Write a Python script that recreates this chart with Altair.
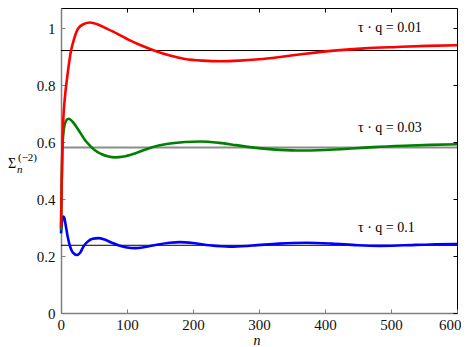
import altair as alt
import pandas as pd

# ---- data ----
n_red = [0, 1, 2, 3.5, 6, 10, 15, 20, 26, 35, 44, 55, 67, 85, 102, 120, 142, 165, 188, 215,
         241, 270, 300, 332, 370, 418, 460, 509, 555, 600]
v_red = [0.30, 0.45, 0.57, 0.68, 0.76, 0.84, 0.92, 0.965, 1.0, 1.016, 1.021, 1.015, 1.002, 0.982,
         0.961, 0.942, 0.922, 0.905, 0.893, 0.887, 0.885, 0.887, 0.892, 0.900, 0.911, 0.923,
         0.930, 0.935, 0.939, 0.941]

n_green = [0, 1, 2, 4, 6, 9, 12, 16, 21, 26, 31, 36, 41, 46, 55, 62, 72, 82, 95, 112, 137, 160,
           188, 211, 240, 265, 286, 320, 357, 400, 440, 473, 520, 560, 600]
v_green = [0.29, 0.45, 0.57, 0.64, 0.665, 0.68, 0.683, 0.676, 0.662, 0.645, 0.627, 0.609, 0.595,
           0.583, 0.566, 0.558, 0.550, 0.547, 0.550, 0.561, 0.582, 0.594, 0.601, 0.603, 0.598,
           0.590, 0.583, 0.575, 0.571, 0.573, 0.578, 0.583, 0.588, 0.591, 0.593]

n_blue = [0, 1, 2, 3.5, 5, 7, 10, 14, 18, 24, 29, 34, 40, 48, 57, 66, 77, 88, 100, 112, 125, 145,
          165, 180, 200, 225, 256, 290, 330, 372, 410, 450, 483, 520, 560, 600]
v_blue = [0.28, 0.31, 0.33, 0.339, 0.335, 0.31, 0.27, 0.232, 0.212, 0.204, 0.212, 0.234, 0.250,
          0.261, 0.263, 0.258, 0.247, 0.237, 0.230, 0.228, 0.231, 0.240, 0.247, 0.249, 0.246,
          0.238, 0.233, 0.237, 0.244, 0.247, 0.244, 0.238, 0.236, 0.238, 0.241, 0.242]

ref_black = [0.9225, 0.238]
ref_gray = [0.582]

label_text = ["τ · q = 0.01", "τ · q = 0.03", "τ · q = 0.1"]
label_n = [450, 450, 450]
label_v = [1.0, 0.65, 0.297]

x_ticks = [0, 100, 200, 300, 400, 500, 600]
y_ticks = [0, 0.2, 0.4, 0.6, 0.8, 1.0]

FONT = "Liberation Serif, DejaVu Serif, serif"
GRAY = "#808080"

xs = alt.Scale(domain=[0, 600], nice=False, zero=False)
ys = alt.Scale(domain=[0, 1.072], nice=False, zero=False)

ax_x_main = alt.Axis(values=x_ticks, title=None, ticks=False, tickSize=0, domain=True,
                     domainColor=GRAY, domainWidth=1.5, labelFont=FONT, labelFontSize=15,
                     labelColor="#111111", labelPadding=4, grid=False, labelFlush=True,
                     labelFlushOffset=4, labelOverlap=False, format="d", orient="bottom")
ax_y_main = alt.Axis(values=y_ticks, title=None, ticks=False, tickSize=0, domain=True,
                     domainColor=GRAY, domainWidth=1.5, labelFont=FONT, labelFontSize=15,
                     labelColor="#111111", labelPadding=6, grid=False, labelFlush=False,
                     labelOverlap=False, format=".1~f", orient="left")
ax_x_bot = alt.Axis(values=x_ticks, title=None, labels=False, domain=False, ticks=True,
                    tickSize=4, offset=-4, tickColor=GRAY, grid=False, orient="bottom")
ax_y_left = alt.Axis(values=y_ticks, title=None, labels=False, domain=False, ticks=True,
                     tickSize=4, offset=-4, tickColor=GRAY, grid=False, orient="left")
ax_x_top = alt.Axis(values=x_ticks, title=None, labels=False, domain=False, ticks=True,
                    tickSize=4, offset=-4, tickColor="#000000", grid=False, orient="top")
ax_y_right = alt.Axis(values=y_ticks, title=None, labels=False, domain=False, ticks=True,
                      tickSize=4, offset=-4, tickColor="#000000", grid=False, orient="right")

df_red = pd.DataFrame({"n": n_red, "v": v_red})
df_green = pd.DataFrame({"n": n_green, "v": v_green})
df_blue = pd.DataFrame({"n": n_blue, "v": v_blue})

gray_rule = alt.Chart(pd.DataFrame({"v": ref_gray})).mark_rule(color="#8c8c8c", strokeWidth=2).encode(
    y=alt.Y("v:Q", scale=ys, axis=None))
black_rule = alt.Chart(pd.DataFrame({"v": ref_black})).mark_rule(color="#000000", strokeWidth=1).encode(
    y=alt.Y("v:Q", scale=ys, axis=None))

blue = alt.Chart(df_blue).mark_line(color="#0000ff", strokeWidth=2.6, interpolate="monotone").encode(
    x=alt.X("n:Q", scale=xs, axis=ax_x_main), y=alt.Y("v:Q", scale=ys, axis=ax_y_main))
green = alt.Chart(df_green).mark_line(color="#008000", strokeWidth=2.6, interpolate="monotone").encode(
    x=alt.X("n:Q", scale=xs, axis=ax_x_bot), y=alt.Y("v:Q", scale=ys, axis=ax_y_left))
red = alt.Chart(df_red).mark_line(color="#ff0000", strokeWidth=2.6, interpolate="monotone").encode(
    x=alt.X("n:Q", scale=xs, axis=ax_x_top), y=alt.Y("v:Q", scale=ys, axis=ax_y_right))

labels = alt.Chart(pd.DataFrame({"n": label_n, "v": label_v, "t": label_text})).mark_text(
    font=FONT, fontSize=14, align="left", baseline="middle", color="#000000").encode(
    x=alt.X("n:Q", scale=xs, axis=None), y=alt.Y("v:Q", scale=ys, axis=None), text="t:N")

one = pd.DataFrame({"k": [0]})
sigma = alt.Chart(one).mark_text(text="Σ", font=FONT, fontSize=14, align="left",
                                 baseline="alphabetic", x=-53, y=160, color="#000000").encode()
sub_n = alt.Chart(one).mark_text(text="n", font=FONT, fontSize=11, fontStyle="italic",
                                 align="left", baseline="alphabetic", x=-44, y=165,
                                 color="#000000").encode()
sup = alt.Chart(one).mark_text(text="(−2)", font=FONT, fontSize=11, align="left",
                               baseline="alphabetic", x=-43, y=153, color="#000000").encode()
xtitle = alt.Chart(one).mark_text(text="n", font=FONT, fontSize=14, fontStyle="italic",
                                  align="center", baseline="alphabetic", x=196, y=337,
                                  color="#000000").encode()

chart = alt.layer(gray_rule, black_rule, blue, green, red, labels, sigma, sub_n, sup, xtitle).resolve_axis(
    x="independent", y="independent"
).properties(
    width=396, height=305,
    autosize=alt.AutoSizeParams(type="none"),
    padding={"left": 53, "top": 0, "right": 4, "bottom": 36},
    background="white",
).configure_view(stroke="#000000", strokeWidth=1)

chart.save("out.html", embed_options={"renderer": "svg", "actions": False})
